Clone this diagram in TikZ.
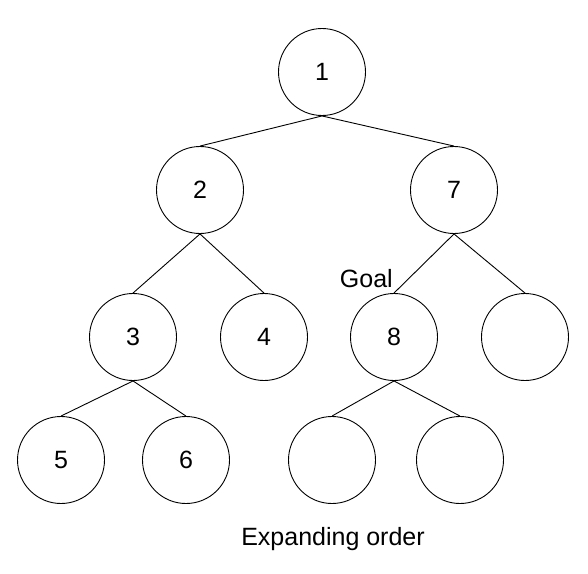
\documentclass[tikz,border=0pt]{standalone}
\usepackage{fontspec}
\setmainfont{Liberation Sans}
\usetikzlibrary{positioning}

\begin{document}
\begin{tikzpicture}[x=1pt,y=-1pt]
\tikzstyle{every node}=[font=\fontsize{25}{29}\selectfont]
\tikzstyle{myEdge}=[draw=black, line width=0.9pt]
\tikzstyle{state}=[draw=black, circle, line width=0.9pt, minimum size=87pt, inner sep=0pt]
\tikzstyle{annot}=[anchor=base, inner sep=0pt]

\useasboundingbox (0,0) rectangle (588,573);

% first level
\node[state] (state1) at (322,72) {1};
\node[state] (state2) at (200,190) {2};
\node[state] (state7) at (454,190) {7};

% third level
\node[state] (state3) at (133,337) {3};
\node[state] (state4) at (264,337) {4};
\node[state] (state8) at (394,337) {8};
\node[state] (stateC) at (525,337) {};

% leaves
\node[state] (state5) at (61,460) {5};
\node[state] (state6) at (186,460) {6};
\node[state] (stateA) at (332,460) {};
\node[state] (stateB) at (460,460) {};

\foreach \a/\b in {1/2,1/7,2/3,2/4,7/8,7/C,3/5,3/6,8/A,8/B}
    \draw[myEdge] (state\a.south) -- (state\b.north);

\node[annot, anchor=base east] (goal) at (393,287) {Goal};
\node[annot] (caption) at (333,545) {Expanding order};
\end{tikzpicture}
\end{document}
